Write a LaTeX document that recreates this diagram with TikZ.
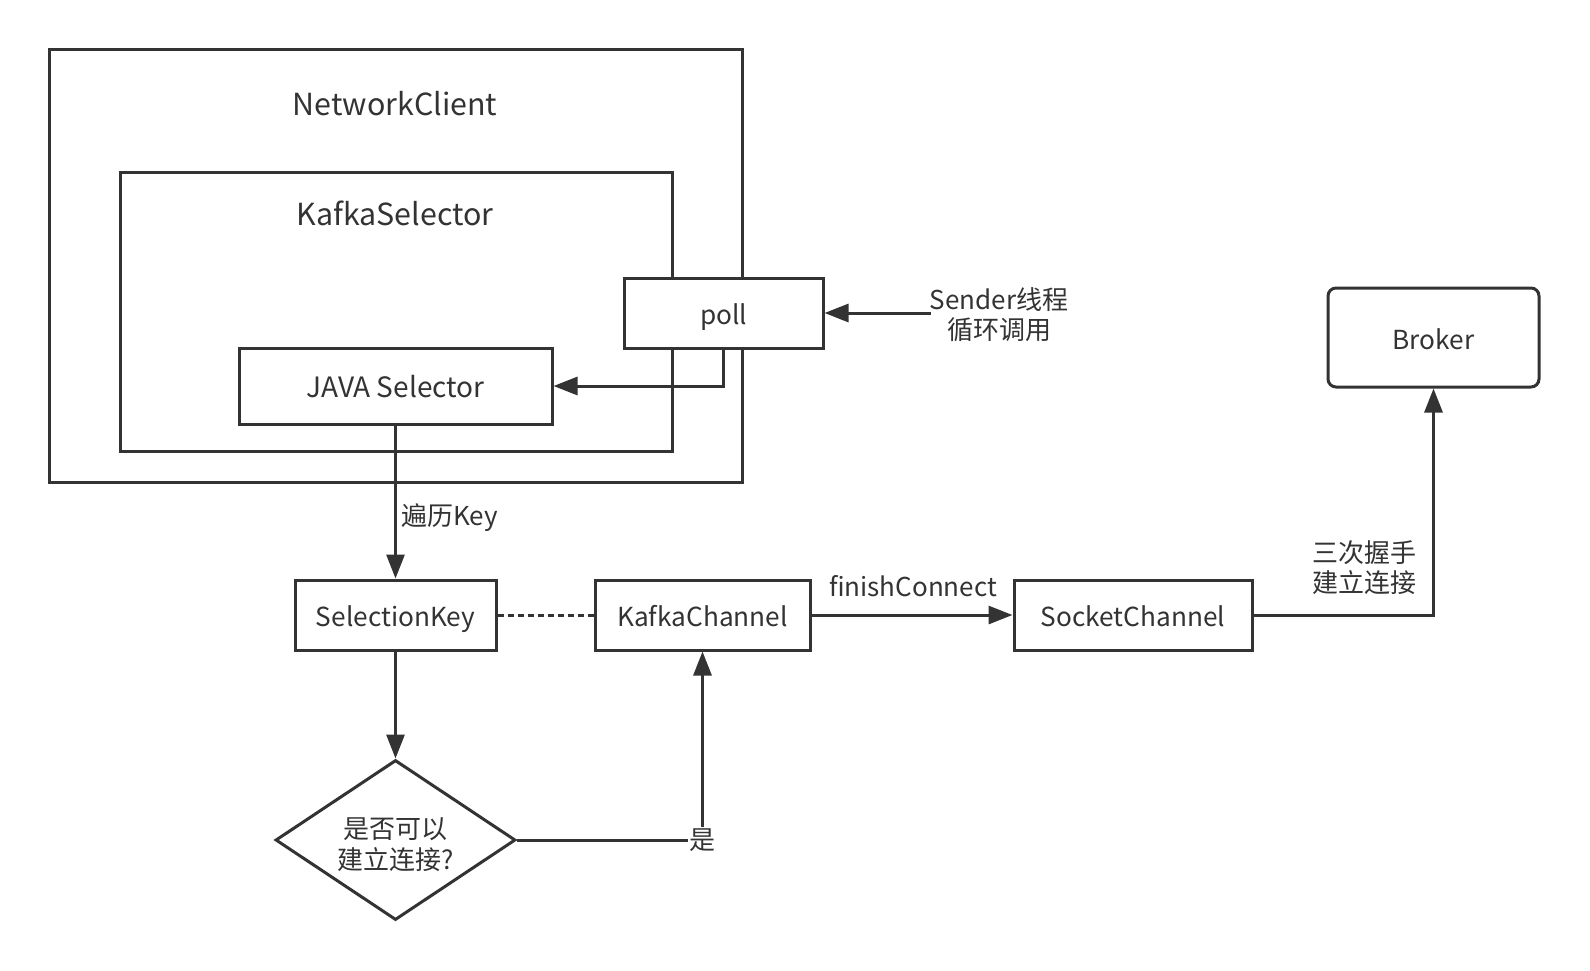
\documentclass[tikz,border=0pt]{standalone}
\usepackage{fontspec}
\setmainfont{Noto Sans CJK SC}
\usetikzlibrary{arrows.meta,shapes.geometric}
\definecolor{ink}{HTML}{333333}
\tikzset{
  boxs/.style 2 args={draw=ink,line width=1.5pt,fill=white,inner sep=0pt,
    minimum width=#1*0.5pt,minimum height=#2*0.5pt,
    font=\fontsize{13.1}{15}\selectfont,text=ink,text height=1.18em,text depth=0pt},
  frame/.style 2 args={draw=ink,line width=1.5pt,inner sep=0pt,
    minimum width=#1*0.5pt,minimum height=#2*0.5pt},
  title/.style={font=\fontsize{15.2}{17}\selectfont,text=ink,inner sep=0pt},
  lbl/.style={font=\fontsize{13}{15}\selectfont,text=ink,inner sep=0pt,align=center},
  conn/.style={draw=ink,line width=1.5pt},
  arr/.style={conn,-{Triangle[length=12pt,width=9pt]}},
}
\begin{document}
\begin{tikzpicture}[x=0.5pt,y=-0.5pt]
\useasboundingbox (0,0) rectangle (1590,970);
% containers
\node[frame={693}{433}] (nc) at (395.5,265.5) {};
\node[frame={552}{279}] (ks) at (396,311.5) {};
\node[title] (nctxt) at (395,104) {NetworkClient};
\node[title] (kstxt) at (395,213) {KafkaSelector};
% boxes
\node[boxs={313}{76},font=\fontsize{14}{16}\selectfont] (java) at (395.5,386) {JAVA Selector};
\node[boxs={199}{70}] (poll) at (723.5,313) {poll};
\node[boxs={211}{99},rounded corners=4pt] (broker) at (1433.5,337.5) {Broker};
\node[boxs={201}{70}] (skey) at (395.5,615) {SelectionKey};
\node[boxs={215}{70}] (kch) at (702.5,615) {KafkaChannel};
\node[boxs={238}{70}] (sch) at (1133,615) {SocketChannel};
\node[diamond,draw=ink,line width=1.5pt,fill=white,inner sep=0pt,
  minimum width=120pt,minimum height=80pt,aspect=1.5,
  font=\fontsize{13}{15.5}\selectfont,text=ink,align=center,text height=31pt] (dec) at (395.5,840)
  {是否可以\\建立连接?};
% sender text
\node[lbl] (sender) at (999,315) {Sender线程\\循环调用};
\coordinate (sendend) at (931,313);
% connectors
\draw[arr] (sendend) -- (poll.east);
\draw[arr] (poll.south) |- (java.east);
\draw[arr] (java.south) -- node[lbl,right=2pt,pos=0.6] (bl) {遍历Key} (skey.north);
\draw[arr] (skey.south) -- (dec.north);
\draw[conn,dash pattern=on 3pt off 2pt] (skey.east) -- (kch.west);
\draw[arr] (dec.east) -| node[lbl,fill=white,pos=0.5,inner sep=1pt] (yes) {是} (kch.south);
\draw[arr] (kch.east) -- (sch.west);
\node[lbl] (fc) at (913,586) {finishConnect};
\draw[arr] (sch.east) -| (broker.south);
\node[lbl] (hs) at (1364,568) {三次握手\\建立连接};
\end{tikzpicture}
\end{document}
